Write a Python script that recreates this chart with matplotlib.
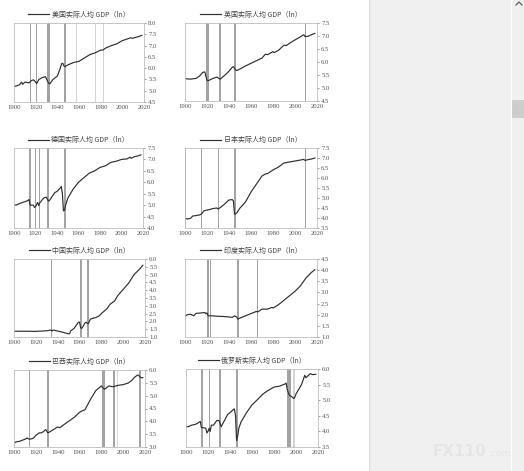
import matplotlib.pyplot as plt
from matplotlib.patches import Rectangle
from matplotlib.lines import Line2D

plt.rcParams['font.family'] = ['Liberation Serif', 'Noto Sans CJK SC', 'DejaVu Sans']

us_years = [1900, 1905, 1907, 1908, 1910, 1914, 1916, 1918, 1920, 1921, 1923, 1926, 1929, 1932, 1933,
            1936, 1940, 1942, 1944, 1945, 1946, 1947, 1950, 1955, 1960, 1965, 1970, 1975, 1980, 1982,
            1985, 1990, 1995, 2000, 2005, 2008, 2009, 2010, 2015, 2018]
us_gdp = [5.18, 5.26, 5.38, 5.28, 5.38, 5.35, 5.45, 5.48, 5.38, 5.32, 5.5, 5.58, 5.62, 5.33, 5.3,
          5.5, 5.65, 5.9, 6.2, 6.22, 6.1, 6.07, 6.15, 6.25, 6.3, 6.45, 6.6, 6.68, 6.8, 6.8,
          6.9, 7.0, 7.08, 7.22, 7.3, 7.35, 7.32, 7.33, 7.4, 7.45]
us_crises = [(1908, 1908.7, 1), (1914.6, 1915.3, 1), (1920, 1921.5, 1), (1930.6, 1933.2, 1),
             (1946.2, 1947.8, 1), (1957.5, 1958, 0), (1975, 1975.5, 0), (1982.5, 1983.1, 0), (2009.4, 2010.1, 1)]

uk_years = [1900, 1905, 1910, 1913, 1916, 1918, 1919, 1920, 1921, 1925, 1929, 1931, 1932, 1935,
            1939, 1943, 1944, 1946, 1947, 1950, 1955, 1960, 1965, 1970, 1973, 1975, 1980, 1981,
            1985, 1990, 1992, 1995, 2000, 2005, 2008, 2009, 2012, 2015, 2018]
uk_gdp = [5.36, 5.34, 5.37, 5.45, 5.6, 5.62, 5.45, 5.3, 5.28, 5.36, 5.42, 5.36, 5.34, 5.45,
          5.6, 5.8, 5.82, 5.7, 5.67, 5.73, 5.85, 5.95, 6.05, 6.15, 6.3, 6.28, 6.4, 6.36,
          6.45, 6.65, 6.63, 6.72, 6.85, 6.97, 7.05, 6.98, 6.99, 7.05, 7.1]
uk_crises = [(1919.2, 1921.4, 1), (1931.2, 1932.7, 1), (1944.7, 1946.3, 1), (1973.3, 1973.9, 0),
             (1980.8, 1981.3, 0), (2009.1, 2009.8, 1)]

de_years = [1900, 1902, 1905, 1910, 1913, 1914, 1915, 1918, 1919, 1920, 1922, 1923, 1924, 1926,
            1928, 1930, 1932, 1933, 1935, 1938, 1940, 1943, 1944, 1945, 1946, 1947, 1948, 1950,
            1955, 1960, 1965, 1970, 1975, 1980, 1985, 1990, 1995, 2000, 2005, 2008, 2009, 2012,
            2015, 2018]
de_gdp = [5.02, 5.0, 5.07, 5.15, 5.2, 5.25, 5.0, 5.0, 4.9, 4.93, 5.12, 4.98, 5.1, 5.22,
          5.32, 5.35, 5.18, 5.2, 5.35, 5.55, 5.6, 5.75, 5.82, 5.5, 4.75, 4.78, 5.0, 5.3,
          5.7, 6.0, 6.2, 6.4, 6.5, 6.65, 6.72, 6.87, 6.92, 7.0, 7.02, 7.1, 7.05, 7.12,
          7.15, 7.2]
de_crises = [(1914, 1915.6, 1), (1919.7, 1920.4, 1), (1923.2, 1924, 1), (1930.7, 1932.7, 1),
             (1946.2, 1948, 1), (2009.4, 2010, 1)]

jp_years = [1900, 1902, 1905, 1907, 1910, 1913, 1915, 1917, 1920, 1923, 1925, 1929, 1930, 1931,
            1935, 1938, 1940, 1943, 1944, 1945, 1946, 1947, 1950, 1955, 1960, 1965, 1970, 1973,
            1975, 1980, 1985, 1990, 1995, 2000, 2005, 2008, 2009, 2012, 2015, 2018]
jp_gdp = [4.0, 3.95, 3.98, 4.1, 4.12, 4.15, 4.2, 4.35, 4.4, 4.43, 4.47, 4.5, 4.45, 4.48,
          4.65, 4.8, 4.9, 4.92, 4.85, 4.2, 4.2, 4.25, 4.5, 4.8, 5.3, 5.7, 6.1, 6.2,
          6.22, 6.4, 6.55, 6.75, 6.8, 6.85, 6.9, 6.93, 6.88, 6.92, 6.95, 7.0]
jp_crises = [(1900.3, 1900.8, 1), (1907, 1907.5, 0), (1914.8, 1915.3, 1), (1920.8, 1921.3, 1),
             (1930, 1930.7, 1), (1944.7, 1946.5, 1), (2009.2, 2009.9, 1)]

cn_years = [1900, 1910, 1920, 1930, 1934, 1935, 1936, 1940, 1945, 1950, 1951, 1952, 1955, 1958,
            1959, 1960, 1961, 1962, 1963, 1965, 1966, 1967, 1968, 1969, 1970, 1975, 1978, 1980,
            1985, 1988, 1990, 1992, 1995, 2000, 2005, 2010, 2015, 2018]
cn_gdp = [1.37, 1.37, 1.36, 1.4, 1.45, 1.38, 1.45, 1.38, 1.3, 1.2, 1.22, 1.4, 1.55, 1.85,
          1.95, 1.95, 1.6, 1.55, 1.65, 1.9, 1.95, 1.88, 1.85, 2.0, 2.15, 2.25, 2.35, 2.5,
          2.8, 3.1, 3.2, 3.3, 3.65, 4.05, 4.45, 5.0, 5.35, 5.6]
cn_crises = [(1934.2, 1934.8, 1), (1960.2, 1962.3, 1), (1967.2, 1968.4, 1)]

in_years = [1900, 1902, 1905, 1907, 1908, 1910, 1915, 1918, 1919, 1920, 1921, 1925, 1930, 1935,
            1940, 1943, 1945, 1947, 1948, 1950, 1955, 1960, 1965, 1966, 1970, 1975, 1979, 1980,
            1985, 1990, 1995, 2000, 2005, 2010, 2015, 2018]
in_gdp = [1.92, 2.0, 2.02, 1.98, 1.95, 2.06, 2.08, 2.1, 2.04, 2.08, 1.95, 1.95, 1.93, 1.92,
          1.9, 1.88, 1.95, 1.9, 1.8, 1.85, 1.95, 2.05, 2.15, 2.12, 2.25, 2.25, 2.33, 2.3,
          2.45, 2.65, 2.85, 3.05, 3.3, 3.65, 3.9, 4.02]
in_crises = [(1908.8, 1909.3, 1), (1919.7, 1921.6, 1), (1923, 1923.5, 1), (1938.8, 1939.3, 1),
             (1947.2, 1948.9, 1), (1965.8, 1966.3, 1), (1979.8, 1980.3, 1)]

br_years = [1900, 1902, 1905, 1908, 1910, 1912, 1914, 1916, 1918, 1920, 1923, 1925, 1927, 1929,
            1930, 1931, 1932, 1935, 1940, 1942, 1945, 1950, 1955, 1960, 1963, 1965, 1970, 1975,
            1980, 1981, 1983, 1985, 1987, 1990, 1992, 1995, 2000, 2005, 2008, 2010, 2013, 2014,
            2015, 2016, 2018]
br_gdp = [3.15, 3.2, 3.22, 3.27, 3.3, 3.35, 3.3, 3.32, 3.35, 3.45, 3.55, 3.55, 3.6, 3.68,
          3.62, 3.55, 3.57, 3.65, 3.78, 3.75, 3.85, 4.0, 4.15, 4.35, 4.42, 4.45, 4.85, 5.2,
          5.38, 5.32, 5.25, 5.32, 5.38, 5.35, 5.36, 5.4, 5.43, 5.5, 5.6, 5.7, 5.8, 5.8,
          5.75, 5.7, 5.7]
br_crises = [(1914, 1914.6, 1), (1915.5, 1916, 0), (1919.7, 1920.3, 1), (1930.4, 1932.3, 1),
             (1942.7, 1943.3, 1), (1981, 1983.1, 1), (1990.4, 1992.3, 1), (1994.8, 1995.3, 0),
             (2014.4, 2016.5, 1)]

ru_years = [1900, 1902, 1905, 1908, 1910, 1913, 1914, 1916, 1918, 1919, 1920, 1921, 1922, 1923,
            1925, 1928, 1930, 1932, 1933, 1935, 1938, 1940, 1943, 1944, 1945, 1946, 1947, 1948,
            1950, 1955, 1960, 1965, 1970, 1975, 1980, 1985, 1990, 1991, 1992, 1994, 1996, 1998,
            1999, 2000, 2005, 2008, 2009, 2010, 2013, 2015, 2018]
ru_gdp = [4.15, 4.15, 4.2, 4.22, 4.25, 4.32, 4.12, 4.12, 4.1, 3.95, 4.0, 4.1, 4.0, 4.2,
          4.2, 4.35, 4.35, 4.15, 4.22, 4.35, 4.55, 4.6, 4.7, 4.72, 4.5, 3.7, 3.85, 4.1,
          4.3, 4.6, 4.85, 5.02, 5.2, 5.32, 5.42, 5.45, 5.52, 5.55, 5.35, 5.15, 5.12, 5.05,
          5.1, 5.2, 5.5, 5.8, 5.72, 5.75, 5.85, 5.82, 5.83]
ru_crises = [(1914, 1915.6, 1), (1918.7, 1919.3, 1), (1921.2, 1921.8, 1), (1930.4, 1932.1, 1),
             (1945.4, 1946.9, 1), (1992, 1995, 1), (1997, 1999, 0), (2008.7, 2009.3, 1)]

panels = [
    ('美国实际人均 GDP（ln）', us_years, us_gdp, us_crises, (4.5, 8.0)),
    ('英国实际人均 GDP（ln）', uk_years, uk_gdp, uk_crises, (4.5, 7.5)),
    ('德国实际人均 GDP（ln）', de_years, de_gdp, de_crises, (4.0, 7.5)),
    ('日本实际人均 GDP（ln）', jp_years, jp_gdp, jp_crises, (3.5, 7.5)),
    ('中国实际人均 GDP（ln）', cn_years, cn_gdp, cn_crises, (1.0, 6.0)),
    ('印度实际人均 GDP（ln）', in_years, in_gdp, in_crises, (1.0, 4.5)),
    ('巴西实际人均 GDP（ln）', br_years, br_gdp, br_crises, (3.0, 6.0)),
    ('俄罗斯实际人均 GDP（ln）', ru_years, ru_gdp, ru_crises, (3.5, 6.0)),
]

W, H = 524, 471
fig = plt.figure(figsize=(W / 100, H / 100), dpi=100)

# axes boxes in pixels: left, top, right, bottom
boxes = [(14, 23, 144, 102), (185, 23, 317, 101),
         (14, 148, 143, 228), (185, 148, 317, 228),
         (14, 259, 145, 337), (185, 259, 317, 337),
         (14, 370, 145, 447), (186, 369, 318, 447)]

line_col = '#2e2e2e'
spine_col = '#bdbdbd'
txt_col = '#505050'

for (title, yrs, vals, crises, ylim), (l, t, r, b) in zip(panels, boxes):
    ax = fig.add_axes([l / W, 1 - b / H, (r - l) / W, (b - t) / H])
    for x0, x1, strong in crises:
        ax.axvspan(x0, x1, color='#858585' if strong else '#c8c8c8', alpha=0.75, lw=0)
    ax.plot(yrs, vals, color=line_col, lw=0.85, label=title)
    ax.set_xlim(1900, 2020)
    ax.set_ylim(*ylim)
    ax.set_xticks(range(1900, 2021, 20))
    step = 0.5
    n = int(round((ylim[1] - ylim[0]) / step))
    ax.set_yticks([ylim[0] + i * step for i in range(n + 1)])
    ax.yaxis.set_major_formatter(plt.FormatStrFormatter('%.1f'))
    ax.yaxis.tick_right()
    ax.tick_params(axis='both', labelsize=4.8, colors=txt_col, length=1.5, width=0.4, pad=1.5)
    ax.tick_params(axis='x', length=0, pad=2.5)
    for s in ax.spines.values():
        s.set_color(spine_col)
        s.set_linewidth(0.6)
    leg = ax.legend(loc='lower center', bbox_to_anchor=(0.5, 0.99), frameon=False,
                    fontsize=5, handlelength=3.0, handletextpad=0.4, borderpad=0.2)
    for txt in leg.get_texts():
        txt.set_family(['Noto Sans CJK SC', 'DejaVu Sans'])
        txt.set_color('#404040')

# browser side panel and scrollbar of the screenshot
fig.patches.append(Rectangle((369 / W, 0), (W - 369) / W, 1, transform=fig.transFigure,
                             facecolor='#f0f0f0', edgecolor='none', zorder=-1))
fig.lines.append(Line2D([369 / W, 369 / W], [0, 1], transform=fig.transFigure, color='#dedede', lw=0.8))
fig.lines.append(Line2D([511 / W, 511 / W], [0, 1], transform=fig.transFigure, color='#ffffff', lw=0.8))
fig.patches.append(Rectangle((512 / W, 1 - 118 / H), 12 / W, 18 / H, transform=fig.transFigure,
                             facecolor='#cdcdcd', edgecolor='none'))
fig.lines.append(Line2D([516 / W, 519 / W, 522 / W], [1 - 5 / H, 1 - 2 / H, 1 - 5 / H],
                        transform=fig.transFigure, color='#606060', lw=0.9))
fig.text(486 / W, 1 - 452 / H, 'FX110', fontsize=11, color='#e6e6e6', ha='right', va='center',
         family='DejaVu Sans', weight='bold')
fig.text(488 / W, 1 - 454 / H, '.com', fontsize=6.5, color='#e6e6e6', ha='left', va='center',
         family='DejaVu Sans')

fig.savefig('out.png', dpi=100)
